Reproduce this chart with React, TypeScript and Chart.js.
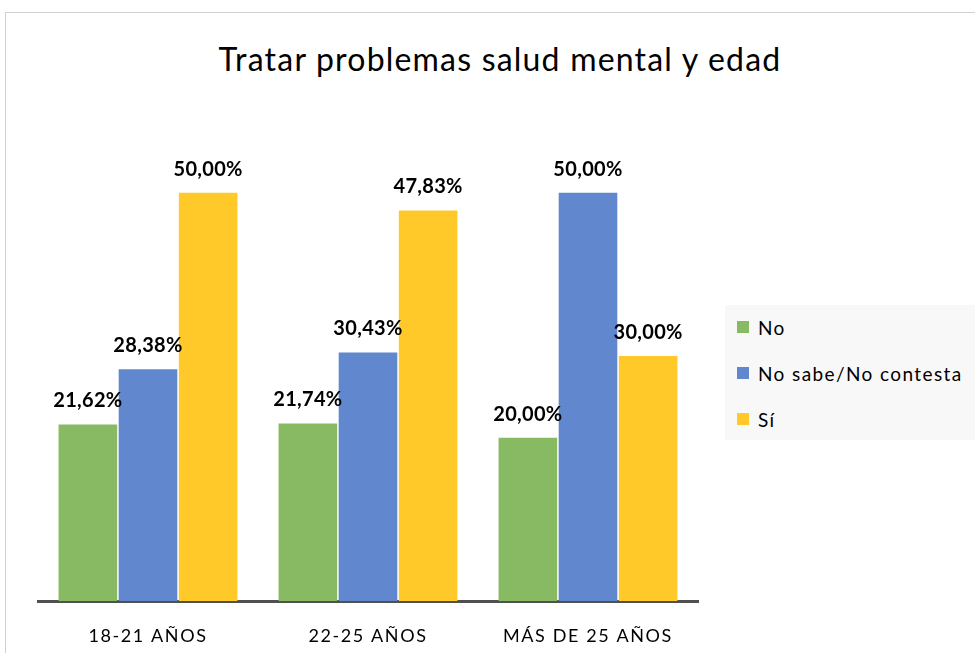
import React, { useEffect, useRef } from "react";
import { Chart, registerables } from "chart.js";

Chart.register(...registerables);

const categories = ["18-21 AÑOS", "22-25 AÑOS", "MÁS DE 25 AÑOS"];
const seriesNames = ["No", "No sabe/No contesta", "Sí"];
const noValues = [21.62, 21.74, 20.0];
const nsncValues = [28.38, 30.43, 50.0];
const siValues = [50.0, 47.83, 30.0];
const colors = ["#88BA64", "#6188CE", "#FFC92A"];
const titleText = "Tratar problemas salud mental y edad";

const FONT = "Lato, 'Open Sans', sans-serif";

const fmt = (v: number) => v.toFixed(2).replace(".", ",") + "%";

const spacingPlugin = {
  id: "tickSpacing",
  beforeDraw(chart: any) {
    (chart.ctx as any).letterSpacing = "1.6px";
  },
  beforeDatasetsDraw(chart: any) {
    (chart.ctx as any).letterSpacing = "0px";
  },
};

const labelPlugin = {
  id: "valueLabels",
  afterDatasetsDraw(chart: any) {
    const ctx = chart.ctx;
    ctx.save();
    (ctx as any).letterSpacing = "0.3px";
    ctx.font = `bold 20px ${FONT}`;
    ctx.fillStyle = "#000";
    ctx.textAlign = "center";
    ctx.textBaseline = "alphabetic";
    chart.data.datasets.forEach((ds: any, i: number) => {
      const meta = chart.getDatasetMeta(i);
      meta.data.forEach((el: any, j: number) => {
        ctx.fillText(fmt(ds.data[j]), el.x, el.y - 17);
      });
    });
    ctx.restore();
  },
};

export default function App() {
  const ref = useRef<HTMLCanvasElement>(null);
  useEffect(() => {
    if (!ref.current) return;
    const data = [noValues, nsncValues, siValues];
    const chart = new Chart(ref.current, {
      type: "bar",
      data: {
        labels: categories,
        datasets: seriesNames.map((n, i) => ({
          label: n,
          data: data[i],
          backgroundColor: colors[i],
          categoryPercentage: 0.82,
          barPercentage: 0.975,
        })),
      },
      options: {
        animation: false,
        responsive: false,
        maintainAspectRatio: false,
        layout: { padding: { left: 38, right: 277, top: 111, bottom: 0 } },
        plugins: {
          legend: { display: false },
          title: { display: false },
          tooltip: { enabled: false },
        },
        scales: {
          x: {
            grid: { display: false },
            border: { display: true, color: "#505050", width: 3 },
            ticks: { color: "#000", font: { family: FONT, size: 18 }, padding: 16 },
            afterFit: (s: any) => {
              s.height = 52;
            },
          },
          y: { display: false, min: 0, max: 60 },
        },
      },
      plugins: [spacingPlugin, labelPlugin],
    });
    return () => chart.destroy();
  }, []);

  return (
    <div style={{ position: "fixed", left: 0, top: 0, width: 975, height: 653, overflow: "hidden", background: "#fff" }}>
      <div style={{ position: "absolute", left: 5, top: 12, width: 1100, height: 800, border: "1px solid #d0d0d0", boxSizing: "border-box" }} />
      <div style={{ position: "absolute", left: 0, top: 39, width: 1000, textAlign: "center", fontFamily: FONT, fontSize: 32, letterSpacing: "1.2px", lineHeight: "40px", color: "#000" }}>
        {titleText}
      </div>
      <canvas ref={ref} width={975} height={653} style={{ position: "absolute", left: 0, top: 0 }} />
      <div style={{ position: "absolute", left: 725, top: 305, width: 250, height: 135, background: "#f8f8f8", fontFamily: FONT, fontSize: 19, letterSpacing: "1.4px", color: "#000" }}>
        {seriesNames.map((n, i) => (
          <div key={n} style={{ position: "absolute", left: 12, top: 10 + i * 46, height: 24, display: "flex", alignItems: "center" }}>
            <span style={{ display: "inline-block", width: 12, height: 12, background: colors[i], marginRight: 9 }} />
            <span>{n}</span>
          </div>
        ))}
      </div>
    </div>
  );
}
